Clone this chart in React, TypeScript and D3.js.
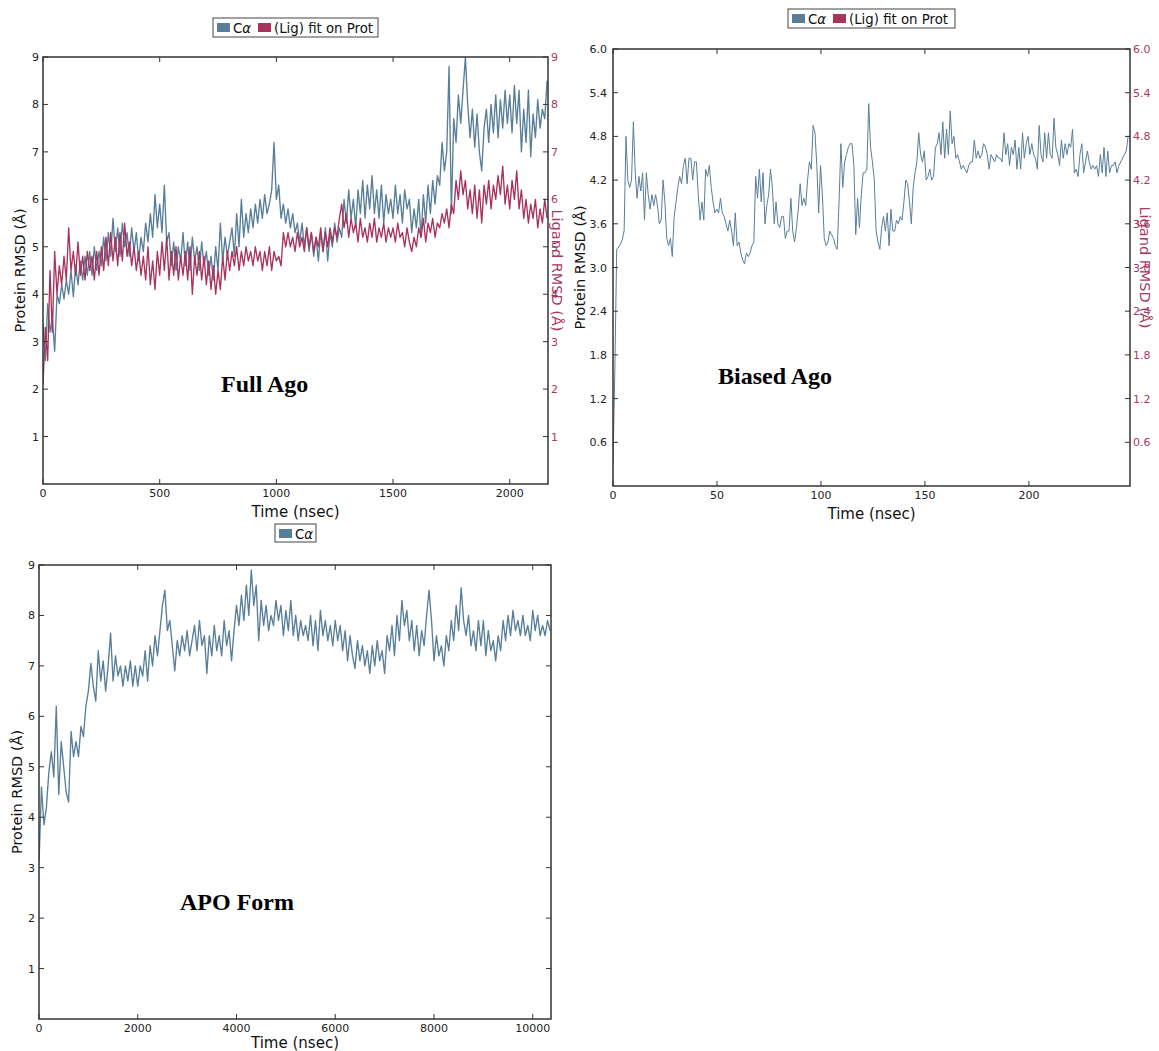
import React from "react";
import * as d3 from "d3";

// ---------- DATA ----------
const fullAgoTimeStep = 10; // nsec between samples
const fullAgoCa = [
  3.4, 2.6, 3.8, 3.2, 3.5, 2.8, 4.0, 3.8, 4.2, 3.9,
  4.3, 4.0, 4.5, 3.95, 4.6, 4.2, 4.7, 4.3, 4.8, 4.4,
  4.9, 4.4, 5.0, 4.5, 4.9, 4.6, 5.2, 4.7, 5.3, 4.8,
  5.6, 4.9, 5.4, 4.8, 5.5, 5.0, 5.3, 4.8, 5.4, 4.9,
  5.3, 4.7, 5.2, 4.9, 5.5, 5.1, 5.7, 5.2, 6.1, 5.4,
  5.9, 5.3, 6.3, 5.1, 5.3, 4.6, 5.1, 4.5, 5.0, 4.7,
  5.3, 4.6, 5.1, 4.5, 5.2, 4.7, 5.0, 4.5, 5.1, 4.6,
  4.9, 4.4, 4.8, 4.3, 5.0, 4.5, 5.5, 4.7, 5.2, 4.8,
  5.1, 5.4, 4.8, 5.7, 5.0, 6.0, 5.2, 5.7, 5.3, 5.8,
  5.4, 5.9, 5.5, 6.0, 5.6, 6.1, 5.7, 5.9, 6.2, 7.2,
  6.0, 6.3, 5.6, 5.9, 5.5, 5.8, 5.4, 5.7, 5.3, 5.5,
  5.1, 5.5, 5.0, 5.4, 4.9, 5.3, 4.8, 5.2, 4.7, 5.3,
  4.9, 5.4, 4.7, 5.3, 5.0, 5.5, 5.1, 5.4, 5.2, 6.0,
  5.5, 6.2, 5.6, 6.0, 5.4, 6.2, 5.7, 6.4, 5.6, 6.3,
  5.8, 6.5, 5.7, 6.2, 5.6, 6.3, 5.5, 6.1, 5.7, 6.0,
  5.6, 6.3, 5.7, 6.1, 5.5, 6.2, 5.8, 6.0, 5.3, 5.8,
  5.4, 6.0, 5.2, 6.1, 5.5, 6.3, 5.7, 6.4, 5.9, 6.5,
  6.3, 7.2, 6.6, 7.0, 8.8, 5.7, 7.7, 7.2, 8.2, 7.6,
  8.3, 9.0, 8.0, 7.3, 7.9, 7.1, 7.8, 7.0, 6.6, 7.5,
  7.9, 7.2, 8.0, 7.4, 8.2, 7.3, 8.1, 7.5, 8.3, 7.6,
  8.2, 7.4, 8.4, 7.6, 8.3, 7.0, 7.9, 7.2, 8.3, 6.9,
  7.8, 7.3, 8.1, 7.5, 7.9, 7.7, 8.5,
];
const fullAgoLig = [
  2.1, 3.3, 2.6, 4.5, 3.2, 4.9, 4.0, 4.6, 4.2, 4.8,
  4.3, 5.4, 4.5, 4.9, 4.4, 5.1, 4.4, 4.8, 4.3, 4.9,
  4.5, 4.8, 4.3, 4.9, 4.4, 5.0, 4.5, 5.2, 4.6, 5.3,
  4.7, 5.2, 4.6, 5.3, 4.7, 5.5, 4.8, 5.1, 4.6, 5.0,
  4.5, 4.9, 4.4, 4.8, 4.3, 5.0, 4.2, 4.7, 4.1, 4.9,
  4.4, 5.1, 4.5, 5.2, 4.3, 4.9, 4.4, 5.0, 4.3, 4.8,
  4.4, 4.9, 4.3, 5.0, 4.0, 4.8, 4.4, 4.9, 4.3, 4.8,
  4.2, 4.7, 4.1, 4.6, 4.0, 4.5, 4.1, 4.8, 4.3, 4.9,
  4.5, 4.9, 4.6, 5.0, 4.5, 4.9, 4.6, 5.0, 4.7, 4.9,
  4.6, 5.0, 4.7, 4.9, 4.5, 4.9, 4.6, 5.0, 4.5, 4.9,
  4.7, 4.8, 4.6, 5.3, 5.0, 5.3, 5.0, 5.2, 4.9, 5.3,
  5.0, 5.2, 4.9, 5.4, 5.0, 5.3, 4.9, 5.2, 5.0, 5.4,
  4.9, 5.3, 5.0, 5.4, 5.1, 5.4, 5.2, 5.6, 5.9, 5.4,
  5.7, 5.2, 5.6, 5.3, 5.5, 5.1, 5.6, 5.2, 5.4, 5.1,
  5.5, 5.2, 5.6, 5.1, 5.4, 5.2, 5.5, 5.1, 5.4, 5.2,
  5.4, 5.1, 5.5, 5.2, 5.3, 5.0, 5.4, 5.1, 4.9, 5.2,
  5.0, 5.4, 5.2, 5.6, 5.1, 5.5, 5.3, 5.6, 5.2, 5.5,
  5.4, 5.7, 5.5, 5.8, 5.4, 5.9, 5.7, 6.4, 6.0, 6.6,
  6.1, 6.4, 5.8, 6.2, 5.7, 6.3, 5.6, 6.2, 5.5, 6.3,
  5.9, 6.4, 5.8, 6.3, 6.0, 6.5, 6.1, 6.7, 5.9, 6.3,
  5.8, 6.4, 6.0, 6.6, 5.8, 6.2, 5.6, 6.0, 5.5, 5.9,
  5.6, 6.0, 5.4, 5.8, 5.5, 6.0, 5.6,
];

const biasedAgoTimeStep = 0.891; // nsec between samples
const biasedAgoCa = [
  0.3, 1.6, 3.25, 3.28, 3.32, 3.38, 3.5, 4.8, 4.2, 4.1,
  4.2, 5.0, 4.3, 3.95, 4.25, 4.05, 4.3, 3.65, 4.3, 4.0,
  3.8, 4.0, 3.85, 4.0, 3.85, 3.6, 3.65, 4.2, 3.9, 3.4,
  3.3, 3.4, 3.15, 3.7, 3.9, 4.1, 4.25, 4.15, 4.4, 4.5,
  4.15, 4.5, 4.5, 4.2, 4.45, 4.45, 4.0, 3.65, 3.9, 3.65,
  4.35, 4.25, 4.4, 4.1, 3.9, 3.75, 3.8, 3.75, 3.95, 3.75,
  3.7, 3.6, 3.5, 3.65, 3.5, 3.3, 3.75, 3.3, 3.35, 3.2,
  3.1, 3.05, 3.2, 3.15, 3.2, 3.3, 3.35, 4.25, 3.95, 4.35,
  3.9, 4.3, 3.6, 3.85, 4.0, 4.35, 4.1, 3.6, 3.9, 3.6,
  3.55, 3.7, 3.7, 3.4, 3.5, 3.5, 3.95, 3.5, 3.35, 3.55,
  3.8, 4.15, 3.85, 3.95, 3.85, 4.2, 4.45, 4.35, 4.95, 4.85,
  4.4, 3.75, 4.4, 4.0, 3.4, 3.3, 3.35, 3.5, 3.45, 3.4,
  3.3, 3.25, 3.9, 4.7, 4.1, 4.45, 4.55, 4.65, 4.7, 4.7,
  4.4, 3.45, 3.95, 3.55, 4.0, 4.3, 4.3, 4.35, 5.25, 4.65,
  4.45, 4.2, 3.5, 3.35, 3.25, 3.55, 3.7, 3.5, 3.75, 3.3,
  3.8, 3.5, 3.5, 3.65, 3.6, 3.7, 3.65, 3.9, 4.2, 4.15,
  3.9, 3.6, 4.1, 4.3, 4.45, 4.85, 4.55, 4.45, 4.6, 4.2,
  4.25, 4.35, 4.2, 4.25, 4.65, 4.7, 4.85, 4.55, 5.0, 4.5,
  4.9, 4.55, 5.15, 4.7, 4.8, 4.5, 4.55, 4.45, 4.35, 4.4,
  4.35, 4.3, 4.4, 4.45, 4.45, 4.75, 4.5, 4.6, 4.5, 4.55,
  4.7, 4.65, 4.55, 4.35, 4.55, 4.5, 4.45, 4.55, 4.5, 4.5,
  4.45, 4.85, 4.55, 4.7, 4.4, 4.65, 4.55, 4.75, 4.35, 4.65,
  4.35, 4.85, 4.5, 4.7, 4.8, 4.55, 4.7, 4.55, 4.5, 4.35,
  4.95, 4.55, 4.45, 4.85, 4.5, 4.85, 4.55, 4.5, 5.05, 4.65,
  4.55, 4.4, 4.75, 4.5, 4.7, 4.55, 4.7, 4.65, 4.9, 4.3,
  4.35, 4.25, 4.55, 4.7, 4.3, 4.45, 4.6, 4.45, 4.35, 4.4,
  4.35, 4.4, 4.25, 4.55, 4.3, 4.65, 4.25, 4.6, 4.3, 4.4,
  4.4, 4.45, 4.3, 4.4, 4.45, 4.5, 4.55, 4.6, 4.8, 4.8,
];

const apoTimeStep = 50; // nsec between samples
const apoCa = [
  3.1, 4.6, 3.85, 4.2, 4.9, 5.3, 4.8, 6.2, 4.45, 5.5,
  5.0, 4.5, 4.3, 5.7, 5.2, 5.5, 5.2, 5.8, 5.6, 6.2,
  6.5, 7.05, 6.6, 6.3, 7.3, 6.7, 7.1, 6.5, 7.0, 7.65,
  6.7, 7.2, 6.8, 7.0, 6.6, 7.0, 6.7, 7.1, 6.6, 7.0,
  6.6, 7.0, 6.8, 7.3, 6.7, 7.4, 7.0, 7.6, 7.2, 7.7,
  8.2, 8.5, 7.7, 7.9, 7.4, 6.9, 7.5, 7.2, 7.6, 7.3,
  7.7, 7.2, 7.5, 7.8, 7.3, 7.9, 7.4, 7.6, 6.85, 7.6,
  7.2, 7.8, 7.3, 7.6, 7.2, 7.9, 7.4, 7.7, 7.1, 7.7,
  8.2, 7.8, 8.4, 7.9, 8.6, 8.0, 8.9, 8.2, 8.6, 7.5,
  8.3, 7.8, 8.2, 7.7, 8.0, 7.8, 8.3, 7.9, 8.2, 7.6,
  8.1, 7.7, 8.3, 7.6, 8.0, 7.5, 7.9, 7.6, 7.8, 7.5,
  8.0, 7.4, 7.9, 7.3, 8.1, 7.6, 7.9, 7.5, 7.8, 7.4,
  7.9, 7.5, 7.8, 7.3, 7.7, 7.1, 7.6, 7.2, 6.95, 7.5,
  7.1, 7.4, 7.0, 7.3, 6.85, 7.4, 7.0, 7.5, 7.1, 7.3,
  6.85, 7.6, 7.3, 7.8, 7.2, 8.0, 7.5, 8.3, 7.8, 8.1,
  7.5, 7.9, 7.3, 7.8, 7.2, 7.7, 7.4, 8.0, 8.5, 7.9,
  7.1, 7.6, 7.2, 7.4, 7.0, 7.6, 7.3, 7.9, 7.5, 8.2,
  7.7, 8.55, 7.9, 7.6, 8.0, 7.4, 7.7, 7.3, 7.9, 7.4,
  7.9, 7.2, 7.7, 7.3, 7.5, 7.1, 7.6, 7.3, 7.9, 7.5,
  8.0, 7.6, 8.1, 7.7, 7.9, 7.6, 8.0, 7.6, 7.8, 7.5,
  8.1, 7.7, 8.0, 7.6, 7.8, 7.6, 7.9, 7.7,
];

const fullAgoXTicks = [0, 500, 1000, 1500, 2000];
const fullAgoYTicks = [1, 2, 3, 4, 5, 6, 7, 8, 9];
const biasedXTicks = [0, 50, 100, 150, 200];
const biasedYTicks = [0.6, 1.2, 1.8, 2.4, 3.0, 3.6, 4.2, 4.8, 5.4, 6.0];
const apoXTicks = [0, 2000, 4000, 6000, 8000, 10000];
const apoYTicks = [1, 2, 3, 4, 5, 6, 7, 8, 9];

// ---------- STYLE ----------
const BLUE = "#587e99";
const RED = "#a8335d";
const RED_TEXT = "#a83a62";
const AXIS = "#333333";
const SANS = "DejaVu Sans";
const SERIF = "Liberation Serif";

type Series = { values: number[]; step: number; color: string; width: number };
type LegendItem = { color: string; kind: "ca" | "lig" };

function CaLabel() {
  return (
    <>
      <tspan>C</tspan>
      <tspan fontStyle="italic">α</tspan>
    </>
  );
}

function Legend({ x, y, w, h, items }: { x: number; y: number; w: number; h: number; items: LegendItem[] }) {
  let cx = x + 4;
  const els: React.ReactNode[] = [];
  items.forEach((it, i) => {
    els.push(<rect key={"s" + i} x={cx} y={y + 5} width={13} height={9} fill={it.color} />);
    const tx = cx + 16;
    els.push(
      <text key={"t" + i} x={tx} y={y + 14.5} fontSize={13.3} fontFamily={SANS} fill="#111">
        {it.kind === "ca" ? <CaLabel /> : "(Lig) fit on Prot"}
      </text>
    );
    cx = tx + 25;
  });
  return (
    <g>
      <rect x={x} y={y} width={w} height={h} fill="#fff" stroke="#444" strokeWidth={1} />
      {els}
    </g>
  );
}

function Panel(props: {
  id: string;
  l: number; r: number; t: number; b: number;
  xMax: number; yMax: number;
  xTicks: number[]; yTicks: number[]; fmt: (v: number) => string;
  series: Series[];
  twin: boolean;
  label: string; labelX: number; labelY: number;
  yLabelX: number; ligLabelX: number; timeLabelY: number;
  leftLabelGap: number;
}) {
  const { id, l, r, t, b, xMax, yMax, xTicks, yTicks, fmt, series, twin } = props;
  const x = d3.scaleLinear().domain([0, xMax]).range([l, r]);
  const y = d3.scaleLinear().domain([0, yMax]).range([b, t]);
  const tickLen = 5;
  return (
    <g>
      <defs>
        <clipPath id={id}>
          <rect x={l} y={t} width={r - l} height={b - t} />
        </clipPath>
      </defs>
      <g clipPath={`url(#${id})`}>
        {series.map((s, i) => {
          const line = d3
            .line<number>()
            .x((_, k) => x(k * s.step))
            .y((d) => y(d));
          return (
            <path key={i} d={line(s.values) || ""} fill="none" stroke={s.color} strokeWidth={s.width} strokeLinejoin="round" />
          );
        })}
      </g>
      {xTicks.map((v) => (
        <g key={"x" + v}>
          <line x1={x(v)} x2={x(v)} y1={b} y2={b - tickLen} stroke={AXIS} />
          <line x1={x(v)} x2={x(v)} y1={t} y2={t + tickLen} stroke={AXIS} />
          <text x={x(v)} y={b + 13} textAnchor="middle" fontSize={11} fontFamily={SANS} fill="#222">
            {v}
          </text>
        </g>
      ))}
      {yTicks.map((v) => (
        <g key={"y" + v}>
          <line x1={l} x2={l + tickLen} y1={y(v)} y2={y(v)} stroke={AXIS} />
          <line x1={r} x2={r - tickLen} y1={y(v)} y2={y(v)} stroke={AXIS} />
          <text x={l - props.leftLabelGap} y={y(v) + 4} textAnchor="end" fontSize={11} fontFamily={SANS} fill="#222">
            {fmt(v)}
          </text>
          {twin && (
            <text x={r + 3} y={y(v) + 4} textAnchor="start" fontSize={11} fontFamily={SANS} fill={RED_TEXT}>
              {fmt(v)}
            </text>
          )}
        </g>
      ))}
      <rect x={l} y={t} width={r - l} height={b - t} fill="none" stroke={AXIS} strokeWidth={1.5} />
      <text
        transform={`translate(${props.yLabelX},${(t + b) / 2}) rotate(-90)`}
        textAnchor="middle"
        fontSize={14.5}
        fontFamily={SANS}
        fill="#111"
      >
        Protein RMSD (Å)
      </text>
      {twin && (
        <text
          transform={`translate(${props.ligLabelX},${(t + b) / 2}) rotate(90)`}
          textAnchor="middle"
          fontSize={14.5}
          fontFamily={SANS}
          fill={RED_TEXT}
        >
          Ligand RMSD (Å)
        </text>
      )}
      <text x={(l + r) / 2} y={props.timeLabelY} textAnchor="middle" fontSize={15} fontFamily={SANS} fill="#111">
        Time (nsec)
      </text>
      <text x={props.labelX} y={props.labelY} fontSize={24} fontWeight="bold" fontFamily={SERIF} fill="#000">
        {props.label}
      </text>
    </g>
  );
}

export default function App() {
  const intFmt = (v: number) => String(v);
  const decFmt = d3.format(".1f");
  return (
    <svg
      width={1159}
      height={1051}
      viewBox="0 0 1159 1051"
      style={{ position: "absolute", left: 0, top: 0, background: "#fff" }}
    >
      <rect x={0} y={0} width={1159} height={1051} fill="#fff" />
      <Panel
        id="clipFull"
        l={43} r={548} t={57} b={484}
        xMax={2164} yMax={9}
        xTicks={fullAgoXTicks} yTicks={fullAgoYTicks} fmt={intFmt}
        series={[
          { values: fullAgoCa, step: fullAgoTimeStep, color: BLUE, width: 1.35 },
          { values: fullAgoLig, step: fullAgoTimeStep, color: RED, width: 1.35 },
        ]}
        twin={true}
        label="Full Ago" labelX={221} labelY={392}
        yLabelX={25} ligLabelX={552} timeLabelY={517}
        leftLabelGap={4}
      />
      <Legend x={213} y={18} w={165} h={19} items={[{ color: BLUE, kind: "ca" }, { color: RED, kind: "lig" }]} />

      <Panel
        id="clipBiased"
        l={613} r={1130} t={49} b={486}
        xMax={248.6} yMax={6}
        xTicks={biasedXTicks} yTicks={biasedYTicks} fmt={decFmt}
        series={[{ values: biasedAgoCa, step: biasedAgoTimeStep, color: BLUE, width: 1 }]}
        twin={true}
        label="Biased Ago" labelX={718} labelY={384}
        yLabelX={585} ligLabelX={1140} timeLabelY={519}
        leftLabelGap={6}
      />
      <Legend x={788} y={9} w={167} h={19} items={[{ color: BLUE, kind: "ca" }, { color: RED, kind: "lig" }]} />

      <Panel
        id="clipApo"
        l={39} r={551} t={565} b={1019}
        xMax={10370} yMax={9}
        xTicks={apoXTicks} yTicks={apoYTicks} fmt={intFmt}
        series={[{ values: apoCa, step: apoTimeStep, color: BLUE, width: 1.35 }]}
        twin={false}
        label="APO Form" labelX={180} labelY={910}
        yLabelX={22} ligLabelX={0} timeLabelY={1048}
        leftLabelGap={4}
      />
      <Legend x={275} y={524} w={41} h={18} items={[{ color: BLUE, kind: "ca" }]} />
    </svg>
  );
}
